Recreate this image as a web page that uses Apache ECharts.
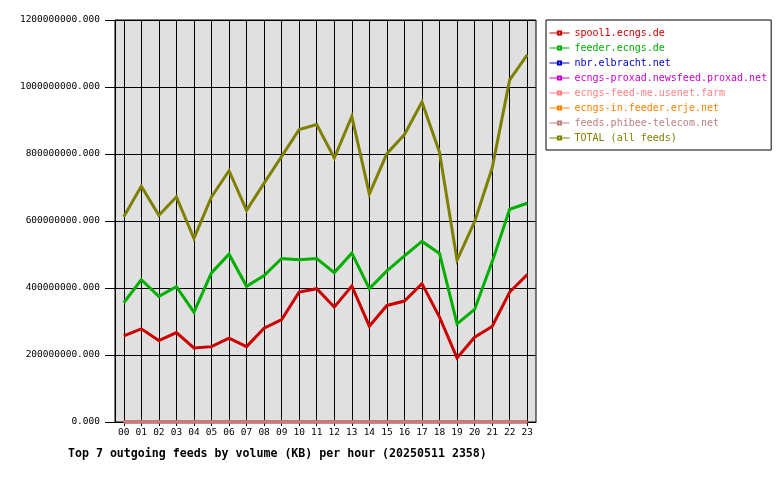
<!DOCTYPE html>
<html>
<head>
<meta charset="utf-8">
<script src="https://cdn.jsdelivr.net/npm/echarts@6/dist/echarts.min.js"></script>
<style>html,body{margin:0;padding:0;background:#fff}#c{width:780px;height:480px}</style>
</head>
<body>
<div id="c"></div>
<script>
var hours = ['00','01','02','03','04','05','06','07','08','09','10','11','12','13','14','15','16','17','18','19','20','21','22','23'];
var seriesNames = ['spool1.ecngs.de','feeder.ecngs.de','nbr.elbracht.net','ecngs-proxad.newsfeed.proxad.net','ecngs-feed-me.usenet.farm','ecngs-in.feeder.erje.net','feeds.phibee-telecom.net','TOTAL (all feeds)'];
var seriesColors = ['#cc0000','#00b000','#0000cc','#cc00cc','#ff8080','#ff8000','#c08080','#808000'];
var spool1 = [257e6,278e6,243e6,267e6,221e6,225e6,250e6,225e6,280e6,306e6,388e6,398e6,343e6,406e6,286e6,348e6,361e6,413e6,313e6,191e6,253e6,285e6,388e6,440e6];
var feeder = [356e6,425e6,375e6,404e6,328e6,445e6,501e6,405e6,437e6,488e6,484e6,488e6,446e6,504e6,398e6,451e6,496e6,539e6,503e6,293e6,336e6,478e6,635e6,653e6];
var nbr = [0,0,0,0,0,0,0,0,0,0,0,0,0,0,0,0,0,0,0,0,0,0,0,0];
var proxad = [0,0,0,0,0,0,0,0,0,0,0,0,0,0,0,0,0,0,0,0,0,0,0,0];
var feedme = [0,0,0,0,0,0,0,0,0,0,0,0,0,0,0,0,0,0,0,0,0,0,0,0];
var erje = [0,0,0,0,0,0,0,0,0,0,0,0,0,0,0,0,0,0,0,0,0,0,0,0];
var phibee = [0,0,0,0,0,0,0,0,0,0,0,0,0,0,0,0,0,0,0,0,0,0,0,0];
var total = [613e6,704e6,617e6,672e6,548e6,672e6,750e6,632e6,713e6,793e6,873e6,888e6,788e6,912e6,681e6,801e6,858e6,955e6,805e6,483e6,598e6,758e6,1021e6,1096e6];
var yTicks = [0,200000000,400000000,600000000,800000000,1000000000,1200000000];
var titleText = 'Top 7 outgoing feeds by volume (KB) per hour (20250511 2358)';

var allData = [spool1, feeder, nbr, proxad, feedme, erje, phibee, total];
var mono = '"DejaVu Sans Mono", "Liberation Mono", monospace';

var chart = echarts.init(document.getElementById('c'), null, {renderer: 'canvas'});
var series = seriesNames.map(function (n, i) {
  return {
    name: n,
    type: 'line',
    data: allData[i],
    showSymbol: false,
    symbol: 'emptyRect',
    color: seriesColors[i],
    lineStyle: {width: 3, color: seriesColors[i], cap: 'butt', join: 'miter'},
    emphasis: {disabled: true},
    z: 2
  };
});
chart.setOption({
  animation: false,
  backgroundColor: '#ffffff',
  title: {
    text: titleText,
    left: 63,
    top: 443,
    textStyle: {fontFamily: mono, fontWeight: 'bold', fontSize: 11.6, color: '#000'}
  },
  legend: {
    orient: 'vertical',
    left: 546,
    top: 20,
    padding: [7, 4, 6, 3],
    itemWidth: 20,
    itemHeight: 4,
    itemGap: 3,
    borderColor: '#000',
    borderWidth: 1,
    borderRadius: 0,
    backgroundColor: '#fff',
    lineStyle: {width: 1},
    selectedMode: false,
    textStyle: {fontFamily: mono, fontSize: 10, lineHeight: 12},
    data: seriesNames.map(function (n, i) {
      return {name: n, textStyle: {color: seriesColors[i]}};
    })
  },
  grid: {
    left: 115, right: 244, top: 20, bottom: 58,
    show: true, backgroundColor: '#e0e0e0', borderColor: '#000', borderWidth: 1
  },
  xAxis: {
    type: 'category',
    data: hours,
    boundaryGap: true,
    axisLine: {show: true, lineStyle: {color: '#000', width: 1}},
    axisTick: {show: true, alignWithLabel: true, length: 4, lineStyle: {color: '#000'}},
    axisLabel: {fontFamily: mono, fontSize: 9.5, color: '#000', margin: 6, interval: 0},
    splitLine: {show: true, alignWithLabel: true, interval: 0, lineStyle: {color: '#000', width: 1}}
  },
  yAxis: {
    type: 'value',
    min: yTicks[0],
    max: yTicks[yTicks.length - 1],
    interval: yTicks[1] - yTicks[0],
    axisLine: {show: true, lineStyle: {color: '#000'}},
    axisTick: {show: true, length: 10, lineStyle: {color: '#000'}},
    axisLabel: {fontFamily: mono, fontSize: 9.5, color: '#000', margin: 15,
      formatter: function (v) { return v.toFixed(3); }},
    splitLine: {show: true, lineStyle: {color: '#000', width: 1}}
  },
  series: series
});
</script>
</body>
</html>
